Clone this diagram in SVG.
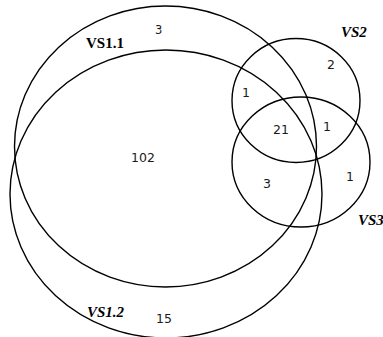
<svg xmlns="http://www.w3.org/2000/svg" width="383" height="337" viewBox="0 0 383 337">
<style>
.set{fill:none;stroke:#000;stroke-width:1.4}
.lab{font-family:"Liberation Serif",serif;font-size:15px;font-weight:bold;fill:#000}
.it{font-style:italic}
.num{font-family:"DejaVu Sans",sans-serif;font-size:12.5px;fill:#1a1a1a}
</style>
<rect width="383" height="337" fill="#fff"/>
<g id="VS1.1">
<ellipse class="set" cx="165.5" cy="146.5" rx="151" ry="140.5"/>
<text class="lab" x="86" y="48">VS1.1</text>
</g>
<g id="VS1.2">
<ellipse class="set" cx="166" cy="194" rx="156" ry="144"/>
<text class="lab it" x="87" y="317">VS1.2</text>
</g>
<g id="VS2">
<ellipse class="set" cx="296" cy="100.5" rx="64" ry="62"/>
<text class="lab it" x="341" y="37">VS2</text>
</g>
<g id="VS3">
<ellipse class="set" cx="301" cy="162" rx="69" ry="65"/>
<text class="lab it" x="358" y="225">VS3</text>
</g>
<g id="counts">
<text class="num" x="155" y="34" style="font-size:11.5px">3</text>
<text class="num" x="131" y="162">102</text>
<text class="num" x="327" y="69">2</text>
<text class="num" x="242" y="97">1</text>
<text class="num" x="273" y="134">21</text>
<text class="num" x="323" y="131">1</text>
<text class="num" x="263" y="188">3</text>
<text class="num" x="346" y="181">1</text>
<text class="num" x="156" y="323">15</text>
</g>
</svg>
